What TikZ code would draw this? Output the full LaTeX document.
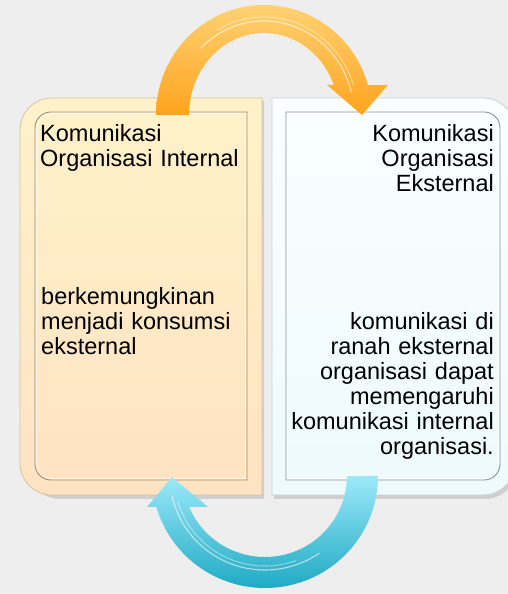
\documentclass[tikz,border=0pt]{standalone}
\usepackage{fontspec}
\setmainfont{Liberation Sans}
\definecolor{bgc}{HTML}{EEEEEE}
\definecolor{lefttop}{HTML}{FFF2CA}
\definecolor{leftbot}{HTML}{FFE2C2}
\definecolor{leftedge}{HTML}{D8C29E}
\definecolor{leftinner}{HTML}{A08C70}
\definecolor{righttop}{HTML}{FAFEFF}
\definecolor{rightbot}{HTML}{EEFAFD}
\definecolor{rightedge}{HTML}{C6D3D7}
\definecolor{rightinner}{HTML}{8A9497}
\definecolor{orgtop}{HTML}{FFD272}
\definecolor{orgbot}{HTML}{FFA41E}
\definecolor{cyantop}{HTML}{9DE9F9}
\definecolor{cyanbot}{HTML}{1FAAC4}
\begin{document}
\begin{tikzpicture}[x=1pt,y=1pt,
  txt/.style={font=\fontsize{23.5}{25}\selectfont, inner sep=0pt, text width=215pt, text=black},
  shadowfill/.style={fill=black, opacity=0.13},
  innerline/.style={line width=0.9pt},
  glint/.style={white, opacity=0.6, line width=1.1pt}]
\fill[bgc] (0,0) rectangle (508,594);
\useasboundingbox (0,0) rectangle (508,594);
\clip (0,0) rectangle (508,594);
% shadows
\fill[shadowfill] (264,95) -- (60,95) arc[start angle=270, end angle=180, radius=32] -- (22,461) arc[start angle=180, end angle=90, radius=32] -- (264,493) -- cycle;
\fill[shadowfill] (274,95) -- (274,493) -- (485,493) arc[start angle=90, end angle=0, radius=32] -- (517,127) arc[start angle=0, end angle=-90, radius=32] -- cycle;
% left box
\path[top color=lefttop, bottom color=leftbot, draw=leftedge, line width=0.8pt]
  (262,99) -- (52,99) arc[start angle=270, end angle=180, radius=32] -- (20,464) arc[start angle=180, end angle=90, radius=32] -- (262,496) -- cycle;
\draw[innerline, leftinner] (247,114) -- (51,114) arc[start angle=270, end angle=180, radius=16] -- (35,466) arc[start angle=180, end angle=90, radius=16] -- (247,482) -- cycle;
\draw[white, opacity=0.7, line width=0.8pt] (245.5,115.5) -- (51,115.5) arc[start angle=270, end angle=180, radius=14.5] -- (36.5,466) arc[start angle=180, end angle=90, radius=14.5] -- (245.5,480.5) -- cycle;
% right box
\path[top color=righttop, bottom color=rightbot, draw=rightedge, line width=0.8pt]
  (272,99) -- (272,496) -- (483,496) arc[start angle=90, end angle=0, radius=32] -- (515,131) arc[start angle=0, end angle=-90, radius=32] -- cycle;
\draw[innerline, rightinner] (286,114) -- (286,482) -- (484,482) arc[start angle=90, end angle=0, radius=16] -- (500,130) arc[start angle=0, end angle=-90, radius=16] -- cycle;
\draw[white, opacity=0.8, line width=0.8pt] (287.5,115.5) -- (287.5,480.5) -- (484,480.5) arc[start angle=90, end angle=0, radius=14.5] -- (498.5,130) arc[start angle=0, end angle=-90, radius=14.5] -- cycle;
% texts
\node[txt, align=left, anchor=base west] (lt) at (40,452) {Komunikasi\\Organisasi Internal};
\node[txt, align=left, anchor=base west] (lb) at (41,289) {berkemungkinan\\menjadi konsumsi\\eksternal};
\node[txt, align=right, anchor=base east] (rt) at (494,452) {Komunikasi\\Organisasi\\Eksternal};
\node[txt, align=right, anchor=base east] (rb) at (494,264) {komunikasi di\\ranah eksternal\\organisasi dapat\\memengaruhi\\komunikasi internal\\organisasi.};
% top orange arrow
\path[top color=orgtop, bottom color=orgbot]
  (156,479) arc[start angle=180, end angle=15.8, x radius=108, y radius=110]
  -- (388,509) -- (362,479) -- (327,509) -- (333.8,509)
  arc[start angle=21.46, end angle=180, x radius=75, y radius=82] -- cycle;
\draw[glint] (264,479) ++(135:90 and 94) arc[start angle=135, end angle=14, x radius=90, y radius=94];
\draw[glint, opacity=0.4] (264,479) ++(120:94 and 98) arc[start angle=120, end angle=18, x radius=94, y radius=98];
% bottom cyan arrow
\path[top color=cyantop, bottom color=cyanbot]
  (378,118) arc[start angle=0, end angle=-163.93, x radius=113, y radius=112]
  -- (147,87) -- (172,117) -- (208,87) -- (189.2,87)
  arc[start angle=-157.5, end angle=0, x radius=82, y radius=81] -- cycle;
\draw[glint] (265,118) ++(-168:95 and 94) arc[start angle=-168, end angle=-55, x radius=95, y radius=94];
\draw[glint, opacity=0.4] (265,118) ++(-164:91 and 90) arc[start angle=-164, end angle=-70, x radius=91, y radius=90];
\end{tikzpicture}
\end{document}
